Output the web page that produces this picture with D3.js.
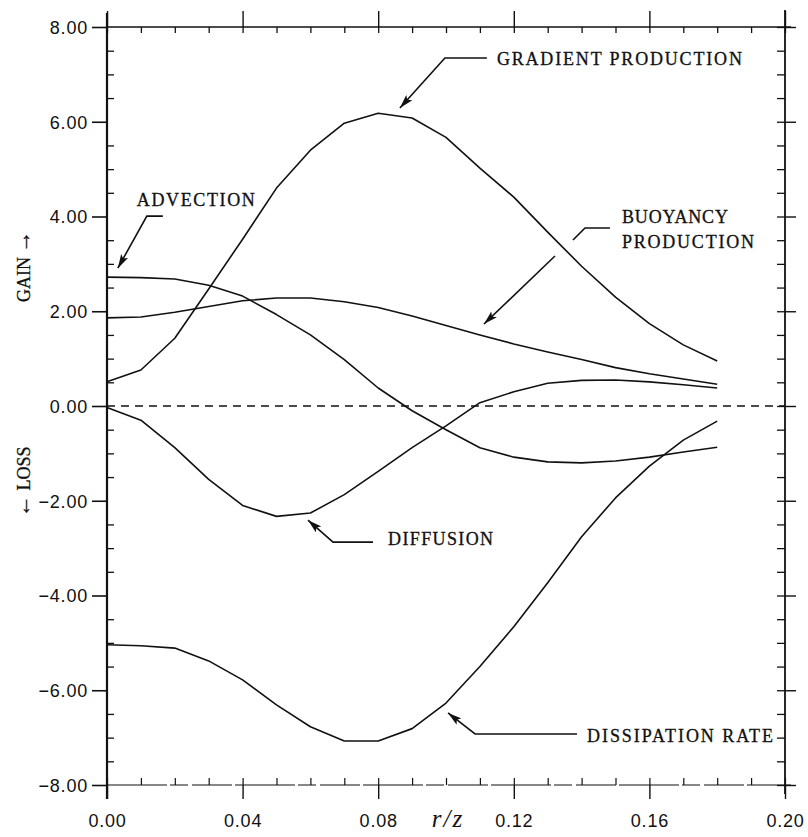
<!DOCTYPE html>
<html>
<head>
<meta charset="utf-8">
<script src="https://cdn.jsdelivr.net/npm/d3@7"></script>
<style>
  html, body { margin: 0; padding: 0; background: #fff; }
  svg { display: block; }
  .tick-label { font-family: "Liberation Sans", Arial, sans-serif; font-size: 18px; fill: #111; }
  .note { font-family: "Liberation Serif", "Times New Roman", serif; font-size: 18px; fill: #111;
          stroke: #111; stroke-width: 0.3px; }
</style>
</head>
<body>
<svg id="chart" width="808" height="837"></svg>
<script>
// Radial position r/z, sampled every 0.01
const rz = [0.00, 0.01, 0.02, 0.03, 0.04, 0.05, 0.06, 0.07, 0.08, 0.09,
            0.10, 0.11, 0.12, 0.13, 0.14, 0.15, 0.16, 0.17, 0.18];

// Budget terms (gain positive, loss negative)
const gradientProduction = [0.51, 0.76, 1.43, 2.47, 3.52, 4.60, 5.40, 5.97, 6.18, 6.08,
                            5.67, 5.02, 4.41, 3.67, 2.95, 2.30, 1.74, 1.29, 0.95];
const advection          = [2.72, 2.71, 2.68, 2.55, 2.32, 1.93, 1.50, 0.98, 0.38, -0.10,
                            -0.50, -0.88, -1.08, -1.18, -1.20, -1.16, -1.08, -0.97, -0.87];
const buoyancyProduction = [1.86, 1.88, 1.98, 2.10, 2.22, 2.28, 2.28, 2.20, 2.08, 1.90,
                            1.70, 1.50, 1.31, 1.14, 0.98, 0.81, 0.68, 0.57, 0.46];
const diffusion          = [-0.03, -0.30, -0.88, -1.55, -2.10, -2.33, -2.26, -1.87, -1.38, -0.88,
                            -0.42, 0.07, 0.30, 0.48, 0.54, 0.55, 0.51, 0.45, 0.38];
const dissipationRate    = [-5.04, -5.06, -5.11, -5.38, -5.78, -6.31, -6.77, -7.07, -7.07, -6.81,
                            -6.27, -5.50, -4.66, -3.73, -2.76, -1.94, -1.27, -0.72, -0.32];

// Axis ticks
const xMajorTicks = [0.00, 0.04, 0.08, 0.12, 0.16, 0.20];
const xMajorLabels = ["0.00", "0.04", "0.08", "0.12", "0.16", "0.20"];
const xMinorTicks = [0.01, 0.02, 0.03, 0.05, 0.06, 0.07, 0.09, 0.10, 0.11,
                     0.13, 0.14, 0.15, 0.17, 0.18, 0.19];
const yMajorTicks = [8, 6, 4, 2, 0, -2, -4, -6, -8];
const yMajorLabels = ["8.00", "6.00", "4.00", "2.00", "0.00", "\u22122.00", "\u22124.00", "\u22126.00", "\u22128.00"];
const yMinorTicks = d3.range(-7.5, 8, 0.5).filter(v => v % 2 !== 0);

const svg = d3.select("#chart");
const x = d3.scaleLinear().domain([0, 0.20]).range([107, 785]);
const y = d3.scaleLinear().domain([-8, 8]).range([785, 27]);

const ink = "#111";

// ---- frame and ticks ----
function styleAxis(g, width) {
  g.select(".domain").remove();
  g.selectAll(".tick line").attr("stroke", ink).attr("stroke-width", width);
  g.selectAll(".tick text").remove();
}

// Left axis: labelled major ticks outside, minor ticks inside
const left = svg.append("g").attr("transform", `translate(${x(0)},0)`)
  .call(d3.axisLeft(y).tickValues(yMajorTicks).tickSize(15).tickFormat((d, i) => yMajorLabels[i]));
left.select(".domain").remove();
left.selectAll(".tick line").attr("stroke", ink).attr("stroke-width", 1.6);
left.selectAll(".tick text").attr("class", "tick-label").attr("x", -19).attr("dy", "0.36em")
  .attr("fill", ink).attr("letter-spacing", 0.8);
svg.append("g").attr("transform", `translate(${x(0)},0)`)
  .call(d3.axisRight(y).tickValues(yMinorTicks).tickSize(7)).call(g => styleAxis(g, 1.3));

// Right axis: major ticks crossing, minor ticks inside
svg.append("g").attr("transform", `translate(${x(0.20)},0)`)
  .call(d3.axisRight(y).tickValues(yMajorTicks).tickSize(11)).call(g => styleAxis(g, 1.4));
svg.append("g").attr("transform", `translate(${x(0.20)},0)`)
  .call(d3.axisLeft(y).tickValues(yMajorTicks.concat(yMinorTicks)).tickSize(8)).call(g => styleAxis(g, 1.3));

// Bottom axis
const bottom = svg.append("g").attr("transform", `translate(0,${y(-8)})`)
  .call(d3.axisBottom(x).tickValues(xMajorTicks).tickSize(14).tickFormat((d, i) => xMajorLabels[i]));
bottom.select(".domain").remove();
bottom.selectAll(".tick line").attr("stroke", ink).attr("stroke-width", 1.4);
bottom.selectAll(".tick text").attr("class", "tick-label").attr("y", 29).attr("dy", "0.71em")
  .attr("fill", ink).attr("letter-spacing", 0.8);
svg.append("g").attr("transform", `translate(0,${y(-8)})`)
  .call(d3.axisTop(x).tickValues(xMajorTicks.concat(xMinorTicks)).tickSize(7)).call(g => styleAxis(g, 1.2));

// Top axis
svg.append("g").attr("transform", `translate(0,${y(8)})`)
  .call(d3.axisTop(x).tickValues(xMajorTicks).tickSize(16)).call(g => styleAxis(g, 1.4));
svg.append("g").attr("transform", `translate(0,${y(8)})`)
  .call(d3.axisBottom(x).tickValues(xMajorTicks.concat(xMinorTicks)).tickSize(6)).call(g => styleAxis(g, 1.3));

// Frame lines
svg.append("line").attr("x1", x(0)).attr("x2", x(0)).attr("y1", y(8) - 14).attr("y2", y(-8) + 14)
  .attr("stroke", ink).attr("stroke-width", 2.2);
svg.append("line").attr("x1", x(0.20)).attr("x2", x(0.20)).attr("y1", y(8) - 17).attr("y2", y(-8) + 9)
  .attr("stroke", ink).attr("stroke-width", 1.8);
svg.append("line").attr("x1", x(0)).attr("x2", x(0.20) + 6).attr("y1", y(8)).attr("y2", y(8))
  .attr("stroke", ink).attr("stroke-width", 1.5);
svg.append("line").attr("x1", x(0)).attr("x2", x(0.20) + 6).attr("y1", y(-8)).attr("y2", y(-8))
  .attr("stroke", ink).attr("stroke-width", 1.2).attr("stroke-dasharray", "60 3 18 4 40 3");

// Zero line
svg.append("line").attr("x1", x(0)).attr("x2", x(0.20)).attr("y1", y(0)).attr("y2", y(0))
  .attr("stroke", ink).attr("stroke-width", 1.4).attr("stroke-dasharray", "8 6");

// Axis titles
svg.append("text").attr("class", "note").attr("text-anchor", "middle")
  .attr("transform", `translate(30,${y(2.95)}) rotate(-90)`)
  .call(t => { t.append("tspan").text("GAIN "); t.append("tspan").attr("font-size", 22).text("\u2192"); });
svg.append("text").attr("class", "note").attr("text-anchor", "middle")
  .attr("transform", `translate(30,${y(-1.6)}) rotate(-90)`)
  .call(t => { t.append("tspan").attr("font-size", 22).text("\u2190"); t.append("tspan").text(" LOSS"); });
svg.append("text").attr("x", 448).attr("y", 827).attr("text-anchor", "middle")
  .attr("font-family", "Liberation Serif, serif").attr("font-style", "italic").attr("font-size", 25)
  .attr("letter-spacing", 2).attr("fill", ink).text("r/z");

// ---- curves ----
const series = [gradientProduction, advection, buoyancyProduction, diffusion, dissipationRate];
const line = d3.line().x((d, i) => x(rz[i])).y(d => y(d));
svg.append("g").selectAll("path").data(series).join("path")
  .attr("d", line).attr("fill", "none").attr("stroke", ink).attr("stroke-width", 1.6)
  .attr("stroke-linejoin", "round");

// ---- labels with leader arrows ----
svg.append("defs").append("marker").attr("id", "head")
  .attr("viewBox", "0 0 14 8").attr("refX", 14).attr("refY", 4)
  .attr("markerWidth", 14).attr("markerHeight", 8).attr("markerUnits", "userSpaceOnUse")
  .attr("orient", "auto")
  .append("path").attr("d", "M0,0 L14,4 L0,8 L3,4 Z").attr("fill", ink);

// Tip position in data units; leader and text offsets in pixels from the tip
const notes = [
  { tip: [0.0864, 6.29], legs: [[[87, -50], [45, -50], [0, 0]]],
    lines: [{ text: "GRADIENT PRODUCTION", dx: 97, dy: -43, len: 245 }] },
  { tip: [0.0032, 2.91], legs: [[[45, -52], [29, -52], [0, 0]]],
    lines: [{ text: "ADVECTION", dx: 19, dy: -62, len: 118 }] },
  { tip: [0.1112, 1.73], legs: [[[126, -96], [101, -96], [89, -84]], [[71, -68], [0, 0]]],
    lines: [{ text: "BUOYANCY", dx: 138, dy: -101, len: 106 },
            { text: "PRODUCTION", dx: 138, dy: -76, len: 132 }] },
  { tip: [0.0593, -2.41], legs: [[[65, 22], [25, 22], [0, 0]]],
    lines: [{ text: "DIFFUSION", dx: 80, dy: 25, len: 105 }] },
  { tip: [0.1006, -6.48], legs: [[[129, 21], [27, 21], [0, 0]]],
    lines: [{ text: "DISSIPATION RATE", dx: 139, dy: 29, len: 186 }] }
];

notes.forEach(n => {
  const tx = x(n.tip[0]), ty = y(n.tip[1]);
  n.legs.forEach(leg => {
    const endsAtTip = leg[leg.length - 1][0] === 0 && leg[leg.length - 1][1] === 0;
    svg.append("path")
      .attr("d", d3.line()(leg.map(p => [tx + p[0], ty + p[1]])))
      .attr("fill", "none").attr("stroke", ink).attr("stroke-width", 1.6)
      .attr("marker-end", endsAtTip ? "url(#head)" : null);
  });
  n.lines.forEach(l => {
    svg.append("text").attr("class", "note").attr("x", tx + l.dx).attr("y", ty + l.dy)
      .attr("textLength", l.len).attr("lengthAdjust", "spacing").text(l.text);
  });
});
</script>
</body>
</html>
